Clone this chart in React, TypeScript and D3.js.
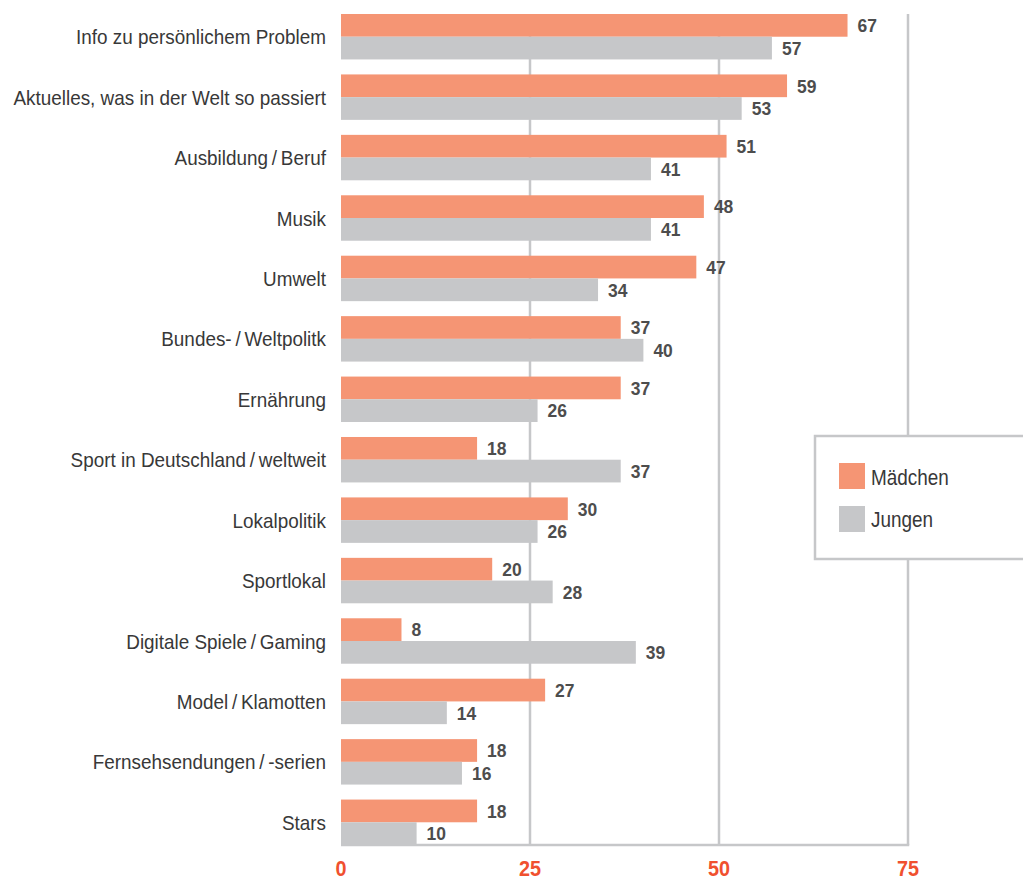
import React from "react";
import * as d3 from "d3";

const categories = [
  "Info zu persönlichem Problem",
  "Aktuelles, was in der Welt so passiert",
  "Ausbildung\u2009/\u2009Beruf",
  "Musik",
  "Umwelt",
  "Bundes-\u2009/\u2009Weltpolitk",
  "Ernährung",
  "Sport in Deutschland\u2009/\u2009weltweit",
  "Lokalpolitik",
  "Sportlokal",
  "Digitale Spiele\u2009/\u2009Gaming",
  "Model\u2009/\u2009Klamotten",
  "Fernsehsendungen\u2009/\u2009-serien",
  "Stars",
];
const maedchen = [67, 59, 51, 48, 47, 37, 37, 18, 30, 20, 8, 27, 18, 18];
const jungen = [57, 53, 41, 41, 34, 40, 26, 37, 26, 28, 39, 14, 16, 10];
const seriesNames = ["Mädchen", "Jungen"];
const ticks = [0, 25, 50, 75];

const W = 1023;
const H = 879;
const ORANGE = "#f59574";
const GRAY = "#c6c7c9";
const LINE = "#c6c7c9";
const TEXT = "#383838";
const VAL = "#4d4d4d";
const TICK = "#f0502f";
const FONT = "'Liberation Sans', Arial, sans-serif";

export default function App() {
  const x = d3.scaleLinear().domain([0, 75]).range([341, 908]);
  const y = d3
    .scaleBand<string>()
    .domain(categories)
    .range([14, 845])
    .paddingInner(0.248)
    .paddingOuter(0);
  const sub = d3.scaleBand<string>().domain(seriesNames).range([0, y.bandwidth()]);
  const values = [maedchen, jungen];
  const colors = [ORANGE, GRAY];
  const top = 14;
  const bottom = 845;

  return (
    <svg
      width={W}
      height={H}
      style={{ position: "absolute", left: 0, top: 0, background: "#fff" }}
      fontFamily={FONT}
    >
      {ticks.slice(1).map((t) => (
        <line key={t} x1={x(t)} x2={x(t)} y1={top} y2={bottom} stroke={LINE} strokeWidth={2.5} />
      ))}
      <line x1={x(0)} x2={x(75) + 1.25} y1={bottom} y2={bottom} stroke={LINE} strokeWidth={2.5} />
      {categories.map((c, i) => (
        <g key={c}>
          {values.map((vals, s) => {
            const by = (y(c) as number) + (sub(seriesNames[s]) as number);
            return (
              <g key={s}>
                <rect x={x(0)} y={by} width={x(vals[i]) - x(0)} height={sub.bandwidth()} fill={colors[s]} />
                <text
                  transform={`translate(${x(vals[i]) + 10},${by + sub.bandwidth() / 2}) scale(0.92,1)`}
                  dy="0.36em"
                  fontSize={19}
                  fontWeight="bold"
                  fill={VAL}
                >
                  {vals[i]}
                </text>
              </g>
            );
          })}
          <text
            transform={`translate(326,${(y(c) as number) + y.bandwidth() / 2}) scale(0.9,1)`}
            dy="0.36em"
            textAnchor="end"
            fontSize={21}
            fill={TEXT}
          >
            {c}
          </text>
        </g>
      ))}
      {ticks.map((t) => (
        <text
          key={t}
          transform={`translate(${x(t)},868) scale(0.9,1)`}
          dy="0.36em"
          textAnchor="middle"
          fontSize={22}
          fontWeight="bold"
          fill={TICK}
        >
          {t}
        </text>
      ))}
      <g>
        <rect x={815} y={436} width={W} height={123} fill="#fff" stroke={LINE} strokeWidth={2.5} />
        {seriesNames.map((n, s) => (
          <g key={n}>
            <rect x={839} y={463 + s * 43} width={26} height={26} fill={colors[s]} />
            <text
              transform={`translate(871,${477.5 + s * 42}) scale(0.86,1)`}
              dy="0.36em"
              fontSize={22}
              fill={TEXT}
            >
              {n}
            </text>
          </g>
        ))}
      </g>
    </svg>
  );
}
